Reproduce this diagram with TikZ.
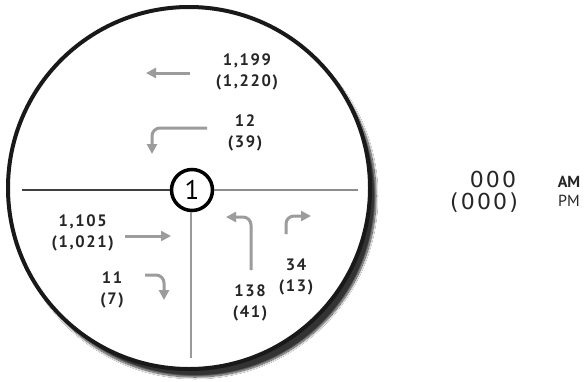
\documentclass[tikz,border=0pt]{standalone}
\usepackage{fontspec}
\setmainfont{PT Sans}
\newfontfamily\numfont[LetterSpace=10]{PT Sans}
\newfontfamily\legendfont[LetterSpace=10]{DejaVu Sans}
\usetikzlibrary{arrows.meta,shadows.blur}

\definecolor{arrowgray}{HTML}{9C9C9C}
\definecolor{numgray}{HTML}{262626}

\begin{document}
\begin{tikzpicture}[x=1pt, y=-1pt,
    turn/.style={draw=arrowgray, line width=3pt, rounded corners=8pt,
        -{Triangle[length=10pt, width=10pt]}},
    count/.style={align=center, text=numgray, inner sep=0pt,
        font=\numfont\bfseries\fontsize{16.5}{21}\selectfont}]

    \useasboundingbox[fill=white] (0,0) rectangle (585,381);

    % Intersection circle
    \draw[line width=4pt, draw=black!90, fill=white,
        blur shadow={shadow xshift=6pt, shadow yshift=-8pt, shadow blur steps=14, shadow opacity=80}]
        (189,188) circle (181);

    % Intersection number
    \node[circle, draw, line width=3.5pt, minimum size=41pt, inner sep=0pt,
        font=\fontsize{27}{27}\selectfont] (n1) at (192,190) {1};

    % Streets
    \coordinate (W) at (22,190);
    \coordinate (E) at (358,190);
    \coordinate (S) at (191,358);
    \draw[line width=1.5pt, black!75] (n1) -- (W);
    \draw[line width=1.4pt, black!45] (n1) -- (E);
    \draw[line width=1.5pt, black!40] (n1.south -| S) -- (S);

    % Westbound movements
    \coordinate (wt1) at (190,73);
    \coordinate (wt2) at (146,73);
    \draw[turn] (wt1) -- (wt2);
    \node[count] (wtc) at (247,72) {1,199\\(1,220)};

    \coordinate (wl1) at (207,128);
    \coordinate (wl2) at (152,128);
    \coordinate (wl3) at (152,154);
    \draw[turn] (wl1) -- (wl2) -- (wl3);
    \node[count] (wlc) at (245,133) {12\\(39)};

    % Eastbound movements
    \coordinate (et1) at (125,236);
    \coordinate (et2) at (171,236);
    \draw[turn] (et1) -- (et2);
    \node[count, anchor=east] (etc) at (114,233) {1,105\\(1,021)};

    \coordinate (er1) at (145,275);
    \coordinate (er2) at (164,275);
    \coordinate (er3) at (164,300);
    \draw[turn] (er1) -- (er2) -- (er3);
    \node[count] (erc) at (112,290) {11\\(7)};

    % Northbound movements
    \coordinate (nl1) at (251,270);
    \coordinate (nl2) at (251,217);
    \coordinate (nl3) at (226,217);
    \draw[turn] (nl1) -- (nl2) -- (nl3);
    \node[count] (nlc) at (250,303) {138\\(41)};

    \coordinate (nr1) at (286,234);
    \coordinate (nr2) at (286,216);
    \coordinate (nr3) at (311,216);
    \draw[turn] (nr1) -- (nr2) -- (nr3);
    \node[count] (nrc) at (296,277) {34\\(13)};

    % Legend
    \node[font=\legendfont\fontsize{22}{22}\selectfont, text=black!85] (am) at (493,179) {000};
    \node[font=\legendfont\fontsize{22}{22}\selectfont, text=black!85] (pm) at (484,203) {(000)};
    \node[inner sep=0pt, align=center, text=black!85,
        font=\fontsize{16}{19}\selectfont] (ampm) at (569,191) {\textbf{AM}\\PM};

\end{tikzpicture}
\end{document}
